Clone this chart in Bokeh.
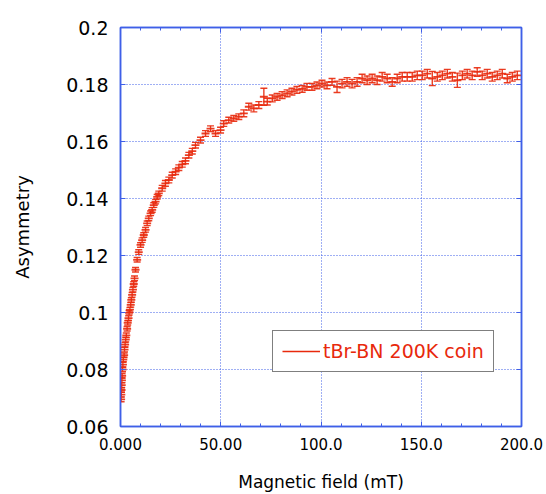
from bokeh.plotting import figure
from bokeh.models import (Range1d, FixedTicker, LinearAxis, Whisker, TeeHead,
                          ColumnDataSource, Legend, LegendItem)
from bokeh.embed import file_html
from bokeh.resources import INLINE

# ---------------- data ----------------
field_mT = [
    0.3, 0.4, 0.5, 0.6, 0.7, 0.8, 1.0, 1.2, 1.4, 1.8,
    2.0, 2.3, 2.6, 2.9, 3.3, 3.6, 4.0, 4.3, 4.7, 5.1,
    5.4, 5.8, 6.2, 6.6, 7.0, 7.5, 8.3, 9.1, 10.0, 10.8,
    11.6, 12.5, 13.3, 14.1, 15.0, 15.8, 16.6, 17.5, 18.3, 19.1,
    20.8, 22.4, 24.1, 25.8, 27.5, 29.1, 30.8, 32.4, 34.1, 35.8,
    37.4, 39.9, 42.4, 44.9, 47.4, 49.9, 51.5, 54.0, 56.5, 59.0,
    61.5, 64.0, 66.5, 69.0, 71.5, 73.2, 75.7, 78.1, 80.6, 83.1,
    85.5, 88.0, 90.6, 93.0, 95.5, 98.0, 100.5, 103.0, 105.5, 108.0,
    110.5, 113.0, 115.5, 118.0, 120.5, 123.0, 125.5, 128.0, 130.5, 133.0,
    135.5, 138.0, 140.5, 143.0, 145.5, 148.0, 150.5, 153.0, 155.5, 158.0,
    160.5, 163.0, 165.5, 168.0, 170.5, 172.9, 175.4, 177.9, 180.4, 182.9,
    185.4, 187.9, 190.4, 192.9, 195.4, 197.9,
]

asymmetry = [
    0.0695, 0.0712, 0.0728, 0.0745, 0.0762, 0.0778, 0.0800, 0.0817, 0.0835, 0.0850,
    0.0870, 0.0887, 0.0905, 0.0920, 0.0943, 0.0964, 0.0980, 0.0999, 0.1010, 0.1027,
    0.1044, 0.1062, 0.1080, 0.1100, 0.1120, 0.1150, 0.1185, 0.1212, 0.1237, 0.1254,
    0.1272, 0.1290, 0.1313, 0.1330, 0.1348, 0.1360, 0.1377, 0.1389, 0.1406, 0.1418,
    0.1436, 0.1453, 0.1465, 0.1482, 0.1494, 0.1508, 0.1520, 0.1532, 0.1552, 0.1566,
    0.1587, 0.1605, 0.1628, 0.1645, 0.1628, 0.1640, 0.1663, 0.1675, 0.1681, 0.1687,
    0.1699, 0.1722, 0.1716, 0.1728, 0.1757, 0.1740, 0.1751, 0.1757, 0.1763, 0.1769,
    0.1775, 0.1781, 0.1785, 0.1792, 0.1792, 0.1797, 0.1803, 0.1797, 0.1809, 0.1792,
    0.1803, 0.1809, 0.1803, 0.1809, 0.1821, 0.1815, 0.1821, 0.1815, 0.1827, 0.1821,
    0.1809, 0.1821, 0.1827, 0.1827, 0.1827, 0.1832, 0.1832, 0.1838, 0.1821, 0.1827,
    0.1832, 0.1838, 0.1827, 0.1815, 0.1832, 0.1838, 0.1832, 0.1844, 0.1832, 0.1838,
    0.1827, 0.1832, 0.1838, 0.1821, 0.1827, 0.1832,
]

asym_err = [
    0.0008, 0.0008, 0.0008, 0.0008, 0.0008, 0.0008, 0.0008, 0.0008, 0.0008, 0.0008,
    0.0008, 0.0008, 0.0008, 0.0008, 0.0008, 0.0008, 0.0008, 0.0008, 0.0008, 0.0008,
    0.0008, 0.0008, 0.0008, 0.0008, 0.0008, 0.0008, 0.0008, 0.0008, 0.0008, 0.0008,
    0.0008, 0.0008, 0.0008, 0.0008, 0.0008, 0.0008, 0.0008, 0.0008, 0.0008, 0.0008,
    0.0010, 0.0010, 0.0010, 0.0010, 0.0010, 0.0010, 0.0010, 0.0010, 0.0010, 0.0010,
    0.0010, 0.0010, 0.0010, 0.0010, 0.0010, 0.0010, 0.0010, 0.0010, 0.0010, 0.0010,
    0.0012, 0.0012, 0.0012, 0.0012, 0.0030, 0.0012, 0.0012, 0.0012, 0.0012, 0.0012,
    0.0012, 0.0012, 0.0012, 0.0012, 0.0012, 0.0012, 0.0012, 0.0012, 0.0012, 0.0020,
    0.0015, 0.0015, 0.0015, 0.0015, 0.0015, 0.0015, 0.0015, 0.0015, 0.0015, 0.0015,
    0.0015, 0.0015, 0.0015, 0.0015, 0.0015, 0.0015, 0.0015, 0.0015, 0.0025, 0.0015,
    0.0015, 0.0015, 0.0015, 0.0025, 0.0015, 0.0015, 0.0015, 0.0015, 0.0015, 0.0015,
    0.0015, 0.0015, 0.0015, 0.0015, 0.0015, 0.0015,
]

x_ticks = [0, 50, 100, 150, 200]
x_tick_labels = ["0.000", "50.00", "100.0", "150.0", "200.0"]
x_minor_ticks = [0, 10, 20, 30, 40, 50, 60, 70, 80, 90, 100,
                 110, 120, 130, 140, 150, 160, 170, 180, 190, 200]
y_ticks = [0.06, 0.08, 0.10, 0.12, 0.14, 0.16, 0.18, 0.20]
y_tick_labels = ["0.06", "0.08", "0.1", "0.12", "0.14", "0.16", "0.18", "0.2"]

series_label = "tBr-BN 200K coin"
x_title = "Magnetic field (mT)"
y_title = "Asymmetry"

# ---------------- styles ----------------
RED = "#e8290c"
BLUE = "#3f5fe8"
FONT = "DejaVu Sans"

lower = [a - e for a, e in zip(asymmetry, asym_err)]
upper = [a + e for a, e in zip(asymmetry, asym_err)]
src = ColumnDataSource(dict(x=field_mT, y=asymmetry, lo=lower, hi=upper))

p = figure(width=546, height=494, output_backend="svg", toolbar_location=None,
           x_range=Range1d(0, 200), y_range=Range1d(0.06, 0.2),
           x_axis_location=None, y_axis_location=None,
           min_border_left=120, min_border_right=25,
           min_border_top=27, min_border_bottom=67)
p.background_fill_color = "white"
p.border_fill_color = "white"
p.outline_line_color = BLUE
p.outline_line_width = 1.5

xt = FixedTicker(ticks=x_ticks, minor_ticks=x_minor_ticks)
yt = FixedTicker(ticks=y_ticks)

def style_axis(ax):
    ax.axis_line_color = BLUE
    ax.axis_line_width = 1.5
    ax.major_tick_line_color = BLUE
    ax.minor_tick_line_color = BLUE
    ax.major_tick_in = 5
    ax.major_tick_out = 0
    ax.minor_tick_in = 3
    ax.minor_tick_out = 0

xb = LinearAxis(ticker=xt, axis_label=x_title,
                major_label_overrides={t: s for t, s in zip(x_ticks, x_tick_labels)})
style_axis(xb)
xb.major_label_text_font = FONT
xb.major_label_text_font_size = "15px"
xb.major_label_text_color = "black"
xb.major_label_standoff = 11
xb.axis_label_text_font = FONT
xb.axis_label_text_font_size = "17px"
xb.axis_label_text_font_style = "normal"
xb.axis_label_text_color = "black"
xb.axis_label_standoff = 19
p.add_layout(xb, "below")

xa = LinearAxis(ticker=xt, major_label_overrides={t: "" for t in x_ticks})
style_axis(xa)
xa.major_label_standoff = 0
p.add_layout(xa, "above")

yl = LinearAxis(ticker=yt, axis_label=y_title,
                major_label_overrides={t: s for t, s in zip(y_ticks, y_tick_labels)})
style_axis(yl)
yl.minor_tick_line_color = None
yl.major_label_text_font = FONT
yl.major_label_text_font_size = "19px"
yl.major_label_text_color = "black"
yl.major_label_standoff = 12
yl.axis_label_text_font = FONT
yl.axis_label_text_font_size = "18px"
yl.axis_label_text_font_style = "normal"
yl.axis_label_text_color = "black"
yl.axis_label_standoff = 30
p.add_layout(yl, "left")

yr = LinearAxis(ticker=yt, major_label_overrides={t: "" for t in y_ticks})
style_axis(yr)
yr.minor_tick_line_color = None
yr.major_label_standoff = 0
p.add_layout(yr, "right")

p.xgrid.ticker = xt
p.ygrid.ticker = yt
for g in (p.xgrid, p.ygrid):
    g.grid_line_color = BLUE
    g.grid_line_dash = "1 2"
    g.grid_line_width = 1
    g.grid_line_alpha = 1.0

# error bars
wh = Whisker(source=src, base="x", lower="lo", upper="hi",
             line_color=RED, line_width=1.4, line_alpha=0.9,
             upper_head=TeeHead(size=7, line_color=RED, line_width=1.4, line_alpha=0.9),
             lower_head=TeeHead(size=7, line_color=RED, line_width=1.4, line_alpha=0.9))
p.add_layout(wh)
p.scatter("x", "y", source=src, marker="dash", size=8, line_color=RED,
          line_width=1.8, line_alpha=0.9)

# legend (sample line uses the first data point only, so it draws nothing in the plot)
leg_line = p.line(x=field_mT[:1], y=asymmetry[:1], line_color=RED, line_width=1.6)
legend = Legend(items=[LegendItem(label=series_label, renderers=[leg_line])],
                location=(152, 54), orientation="vertical",
                border_line_color="black", border_line_width=1,
                background_fill_color="white", background_fill_alpha=1,
                label_text_color=RED, label_text_font=FONT,
                label_text_font_size="19px",
                glyph_width=38, glyph_height=20, label_height=20,
                label_standoff=3, padding=9, margin=0)
p.add_layout(legend, "center")

open("out.html", "w").write(file_html(p, INLINE))
